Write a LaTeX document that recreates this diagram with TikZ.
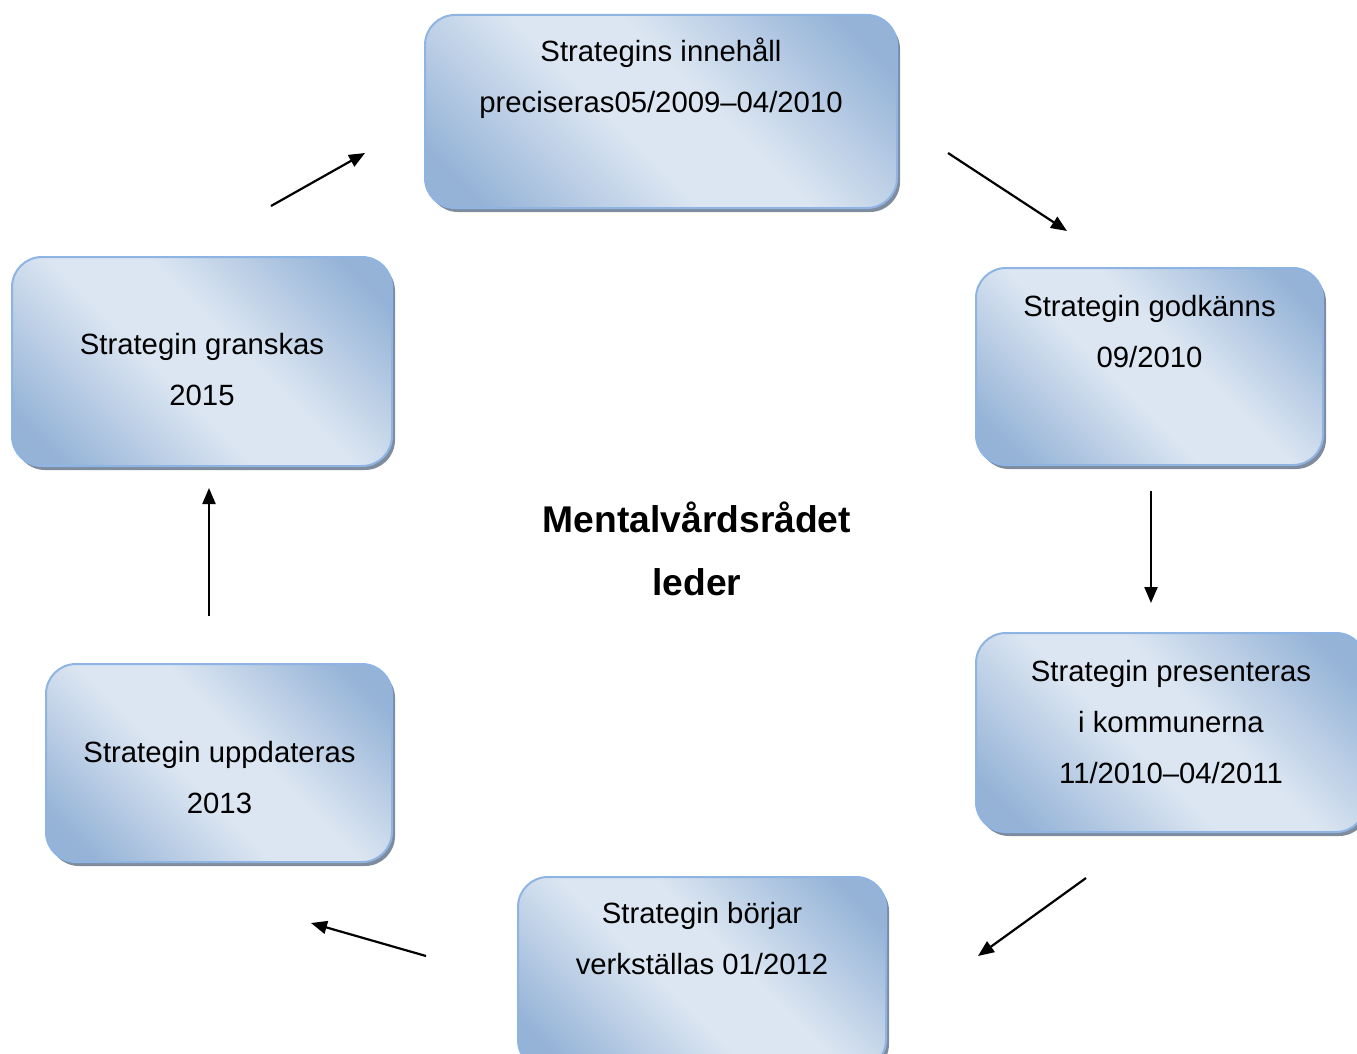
\documentclass[tikz,border=0pt]{standalone}
\usepackage{fontspec}
\setmainfont{Liberation Sans}
\usetikzlibrary{shadows,arrows.meta}
\definecolor{boxdark}{HTML}{95B3D7}
\definecolor{boxlight}{HTML}{DCE6F2}
\definecolor{boxline}{HTML}{8EB4E3}
\definecolor{shadowc}{HTML}{7F8C9E}
\pgfdeclareverticalshading{boxshade}{100bp}{color(0bp)=(boxdark); color(21bp)=(boxdark); color(44bp)=(boxlight); color(56bp)=(boxlight); color(79bp)=(boxdark); color(100bp)=(boxdark)}
\tikzset{
  stage/.style={draw=boxline, line width=2pt, rounded corners=30pt,
    shading=boxshade, shading angle=-45,
    drop shadow={shadow xshift=3pt, shadow yshift=-4pt, fill=shadowc, opacity=1},
    inner sep=0pt},
  stagetext/.style={anchor=north, inner sep=0pt, align=center, font=\fontsize{29.3}{51}\selectfont},
  flow/.style={line width=2.2pt, -{Triangle[length=16pt,width=13pt]}},
}
\begin{document}
\begin{tikzpicture}[x=1pt,y=-1pt]
\useasboundingbox (0,0) rectangle (1357,1054);
\clip (0,0) rectangle (1357,1054);
% boxes
\node[stage, minimum width=472pt, minimum height=193pt] (b1) at (661,111.5) {};
\node[stage, minimum width=347pt, minimum height=197pt] (b2) at (1149.5,366.5) {};
\node[stage, minimum width=390pt, minimum height=199pt] (b3) at (1171,732.5) {};
\node[stage, minimum width=368pt, minimum height=193pt] (b4) at (702,973.5) {};
\node[stage, minimum width=346pt, minimum height=198pt] (b5) at (219,763) {};
\node[stage, minimum width=380pt, minimum height=209pt] (b6) at (202,361.5) {};
% texts
\node[stagetext] (t1) at (661,26) {\strut Strategins innehåll\\\strut preciseras05/2009–04/2010};
\node[stagetext] (t2) at (1149.5,281) {\strut Strategin godkänns\\\strut 09/2010};
\node[stagetext] (t3) at (1171,646) {\strut Strategin presenteras\\\strut i kommunerna\\\strut 11/2010–04/2011};
\node[stagetext] (t4) at (702,888) {\strut Strategin börjar\\\strut verkställas 01/2012};
\node[stagetext] (t5) at (219.5,727) {\strut Strategin uppdateras\\\strut 2013};
\node[stagetext] (t6) at (202,319) {\strut Strategin granskas\\\strut 2015};
\node[anchor=north, inner sep=0pt, align=center, font=\fontsize{37.2}{63}\bfseries\selectfont] (c) at (697,488) {\strut Mentalvårdsrådet\\\strut leder};
% arrow end points
\coordinate (a1s) at (271,206); \coordinate (a1e) at (365,153);
\coordinate (a2s) at (948,153); \coordinate (a2e) at (1067,231);
\coordinate (a3s) at (1151,491); \coordinate (a3e) at (1151,603);
\coordinate (a4s) at (1086,878); \coordinate (a4e) at (978,956);
\coordinate (a5s) at (426,956); \coordinate (a5e) at (311,923);
\coordinate (a6s) at (209,616); \coordinate (a6e) at (209,488);
\draw[flow] (a1s) -- (a1e);
\draw[flow] (a2s) -- (a2e);
\draw[flow] (a3s) -- (a3e);
\draw[flow] (a4s) -- (a4e);
\draw[flow] (a5s) -- (a5e);
\draw[flow] (a6s) -- (a6e);
\end{tikzpicture}
\end{document}
